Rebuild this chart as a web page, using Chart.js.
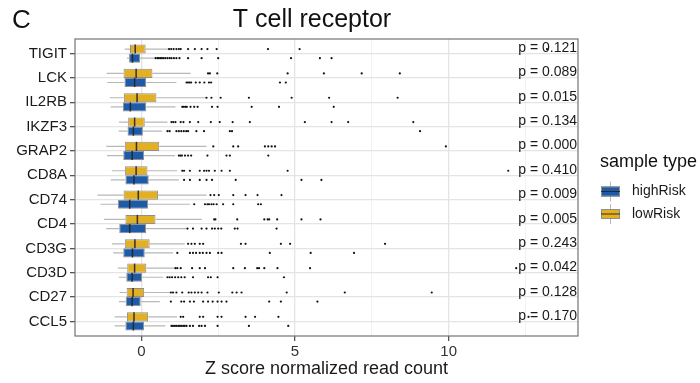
<!DOCTYPE html>
<html>
<head>
<meta charset="utf-8">
<script src="https://cdn.jsdelivr.net/npm/chart.js@4.4.1/dist/chart.umd.min.js"></script>
<style>
  html, body { margin: 0; padding: 0; background: #fff; }
  #wrap { width: 700px; height: 383px; }
</style>
</head>
<body>
<div id="wrap"><canvas id="boxChart" width="700" height="383"></canvas></div>
<script>
const genes = ['TIGIT', 'LCK', 'IL2RB', 'IKZF3', 'GRAP2', 'CD8A', 'CD74', 'CD4', 'CD3G', 'CD3D', 'CD27', 'CCL5'];
const pValues = ['0.121', '0.089', '0.015', '0.134', '0.000', '0.410', '0.009', '0.005', '0.243', '0.042', '0.128', '0.170'];
const xTicks = [0, 5, 10];
const xMinorTicks = [2.5, 7.5, 12.5];

// lowRisk (yellow) box stats
const lowQ1 = [-0.37, -0.58, -0.57, -0.43, -0.54, -0.53, -0.58, -0.52, -0.54, -0.46, -0.48, -0.47];
const lowMed = [-0.20, -0.17, -0.14, -0.22, -0.16, -0.17, -0.10, -0.13, -0.21, -0.22, -0.27, -0.24];
const lowQ3 = [0.14, 0.36, 0.49, 0.11, 0.58, 0.20, 0.54, 0.46, 0.27, 0.16, 0.09, 0.22];
const lowMin = [-0.54, -1.13, -1.03, -0.73, -1.14, -0.96, -1.43, -1.22, -0.96, -0.76, -0.71, -0.87];
const lowMax = [0.87, 1.60, 2.10, 0.85, 2.12, 1.16, 2.12, 1.96, 1.41, 1.09, 0.92, 1.16];
const lowOut = [
  [0.9, 0.97, 1.05, 1.14, 1.22, 1.28, 1.52, 1.74, 1.96, 2.15, 2.45, 4.12, 5.15, 13.2],
  [2.17, 2.23, 2.47, 4.76, 5.94, 7.17, 8.41],
  [2.12, 2.28, 2.58, 3.5, 4.89, 6.11, 8.34],
  [0.98, 1.04, 1.11, 1.28, 1.37, 1.58, 1.85, 2.26, 2.55, 2.97, 3.53, 5.32, 6.19, 6.73, 8.85],
  [2.34, 2.99, 3.15, 4.02, 4.13, 4.24, 4.35, 9.91],
  [1.33, 1.39, 1.58, 1.9, 2.04, 2.12, 2.2, 2.39, 2.61, 2.88, 4.76, 11.94],
  [2.25, 2.37, 2.52, 2.99, 3.39, 3.78, 4.56],
  [2.37, 2.41, 3.12, 4.0, 4.11, 4.16, 4.42, 5.21, 5.83],
  [1.52, 1.63, 1.74, 1.9, 2.01, 3.24, 3.39, 4.54, 4.84, 7.93],
  [1.11, 1.17, 1.28, 1.65, 1.9, 2.07, 2.99, 3.37, 3.77, 3.83, 4.0, 4.43, 5.49, 12.2],
  [0.96, 1.03, 1.14, 1.33, 1.54, 1.63, 1.74, 1.85, 1.96, 2.15, 2.52, 2.96, 3.1, 3.26, 4.73, 6.62, 9.45],
  [1.28, 1.36, 1.9, 2.01, 2.48, 2.61, 3.39, 3.7, 4.46, 12.6],
];

// highRisk (blue) box stats
const highQ1 = [-0.40, -0.55, -0.60, -0.45, -0.59, -0.52, -0.76, -0.72, -0.59, -0.49, -0.51, -0.52];
const highMed = [-0.29, -0.22, -0.36, -0.26, -0.30, -0.24, -0.38, -0.38, -0.29, -0.30, -0.30, -0.26];
const highQ3 = [-0.04, 0.16, 0.16, 0.05, 0.09, 0.24, 0.22, 0.15, 0.11, 0.02, 0.00, 0.09];
const highMin = [-0.47, -1.11, -1.00, -0.74, -1.12, -1.00, -1.33, -1.14, -0.92, -0.74, -0.73, -0.87];
const highMax = [0.41, 1.14, 1.11, 0.67, 1.09, 1.22, 1.58, 1.47, 1.03, 0.71, 0.60, 0.78];
const highOut = [
  [0.46, 0.52, 0.57, 0.62, 0.67, 0.72, 0.78, 0.85, 0.92, 0.98, 1.06, 1.14, 1.24, 1.52, 1.96, 2.5, 4.87, 5.81, 6.19],
  [1.47, 1.52, 1.57, 1.62, 1.77, 1.9, 2.05, 2.2, 2.27, 4.51, 4.70],
  [1.33, 1.38, 1.43, 1.48, 1.6, 1.72, 1.83, 2.3, 2.48, 3.59, 4.48, 6.26],
  [0.85, 0.92, 1.14, 1.22, 1.3, 1.38, 1.46, 1.52, 1.79, 2.04, 2.88, 2.95, 9.07],
  [1.22, 1.27, 1.32, 1.42, 1.52, 1.62, 2.15, 2.77, 2.88, 4.13],
  [1.39, 1.58, 1.9, 2.12, 2.3, 3.07, 5.21, 5.86],
  [1.72, 2.07, 2.15, 2.2, 2.28, 2.35, 2.45, 2.66, 2.99, 3.8, 3.89],
  [1.5, 1.68, 1.96, 2.12, 2.3, 2.39, 2.5, 2.6, 3.04, 3.13, 4.4],
  [1.17, 1.58, 1.68, 1.78, 1.9, 2.0, 2.12, 2.23, 2.5, 2.61, 4.18, 5.51, 6.92],
  [0.85, 0.92, 1.0, 1.1, 1.2, 1.3, 1.41, 1.68, 2.17, 2.26, 2.48, 4.64],
  [0.96, 1.3, 1.39, 1.58, 1.71, 2.01, 2.17, 2.32, 2.48, 2.61, 2.77, 4.16, 4.54, 5.73],
  [0.98, 1.03, 1.09, 1.14, 1.2, 1.25, 1.3, 1.36, 1.41, 1.47, 1.58, 1.68, 1.88, 1.96, 2.07, 2.48, 3.5, 4.78],
];

const FONT = '"Liberation Sans", Arial, Helvetica, sans-serif';
const YELLOW = '#e2b022';
const BLUE = '#1d5aa7';
const BOX_EDGE = '#8f8f8f';
const WHISKER = '#b8b8b8';
const DODGE = 0.1875; // half of the dodge step, in category units

const boxStats = [
  { q1: lowQ1, med: lowMed, q3: lowQ3, min: lowMin, max: lowMax },
  { q1: highQ1, med: highMed, q3: highQ3, min: highMin, max: highMax },
];

function boxData(q1, q3) {
  return genes.map((g, i) => ({ x: [q1[i], q3[i]], y: i + 1 }));
}

function outlierData(outs, offset) {
  return outs.flatMap((vals, i) => vals.map((v) => ({ x: v, y: i + 1 + offset })));
}

const boxExtras = {
  id: 'boxExtras',
  beforeDatasetsDraw(chart) {
    const { ctx } = chart;
    const x = chart.scales.x;
    ctx.save();
    ctx.strokeStyle = WHISKER;
    ctx.lineWidth = 1.2;
    boxStats.forEach((s, di) => {
      chart.getDatasetMeta(di).data.forEach((bar, i) => {
        ctx.beginPath();
        ctx.moveTo(x.getPixelForValue(s.min[i]), bar.y);
        ctx.lineTo(x.getPixelForValue(s.q1[i]), bar.y);
        ctx.moveTo(x.getPixelForValue(s.q3[i]), bar.y);
        ctx.lineTo(x.getPixelForValue(s.max[i]), bar.y);
        ctx.stroke();
      });
    });
    ctx.restore();
  },
  afterDatasetsDraw(chart) {
    const { ctx, chartArea } = chart;
    const x = chart.scales.x;
    const y = chart.scales.y;
    ctx.save();
    // medians
    ctx.strokeStyle = 'rgba(35,35,35,0.9)';
    ctx.lineWidth = 1.5;
    boxStats.forEach((s, di) => {
      chart.getDatasetMeta(di).data.forEach((bar, i) => {
        const px = x.getPixelForValue(s.med[i]);
        ctx.beginPath();
        ctx.moveTo(px, bar.y - bar.height / 2);
        ctx.lineTo(px, bar.y + bar.height / 2);
        ctx.stroke();
      });
    });
    // p values
    ctx.fillStyle = '#1a1a1a';
    ctx.font = `14px ${FONT}`;
    ctx.textAlign = 'right';
    ctx.textBaseline = 'alphabetic';
    pValues.forEach((p, i) => {
      ctx.fillText(`p = ${p}`, chartArea.right - 1, y.getPixelForValue(i + 1) - 1.5);
    });
    ctx.restore();
  },
  afterDraw(chart) {
    const { ctx, chartArea } = chart;
    ctx.save();
    // panel border
    ctx.strokeStyle = '#737373';
    ctx.lineWidth = 1.2;
    ctx.strokeRect(chartArea.left, chartArea.top, chartArea.right - chartArea.left, chartArea.bottom - chartArea.top);

    // titles
    ctx.fillStyle = '#111';
    ctx.textBaseline = 'alphabetic';
    ctx.font = `26px ${FONT}`;
    ctx.textAlign = 'left';
    ctx.fillText('C', 12, 28);
    ctx.font = `25px ${FONT}`;
    ctx.textAlign = 'center';
    ctx.fillText('T cell receptor', 312, 27);

    // legend
    ctx.textAlign = 'left';
    ctx.font = `18px ${FONT}`;
    ctx.fillText('sample type', 600, 167);
    const keys = [
      { label: 'highRisk', color: BLUE, cy: 191.5 },
      { label: 'lowRisk', color: YELLOW, cy: 214 },
    ];
    keys.forEach((k) => {
      const kx = 601, kw = 19, kh = 10;
      ctx.strokeStyle = WHISKER;
      ctx.lineWidth = 1;
      ctx.beginPath();
      ctx.moveTo(kx + kw / 2, k.cy - 10);
      ctx.lineTo(kx + kw / 2, k.cy + 10);
      ctx.stroke();
      ctx.fillStyle = k.color;
      ctx.fillRect(kx, k.cy - kh / 2, kw, kh);
      ctx.strokeStyle = BOX_EDGE;
      ctx.strokeRect(kx + 0.5, k.cy - kh / 2 + 0.5, kw - 1, kh - 1);
      ctx.strokeStyle = 'rgba(35,35,35,0.9)';
      ctx.beginPath();
      ctx.moveTo(kx, k.cy);
      ctx.lineTo(kx + kw, k.cy);
      ctx.stroke();
      ctx.fillStyle = '#1a1a1a';
      ctx.font = `14px ${FONT}`;
      ctx.textBaseline = 'middle';
      ctx.fillText(k.label, 632, k.cy);
      ctx.textBaseline = 'alphabetic';
    });
    ctx.restore();
  },
};

const isMajor = (c) => !!(c && c.tick && xTicks.includes(c.tick.value));

new Chart(document.getElementById('boxChart'), {
  type: 'bar',
  data: {
    datasets: [
      {
        label: 'lowRisk',
        indexAxis: 'y',
        data: boxData(lowQ1, lowQ3),
        backgroundColor: YELLOW,
        borderColor: BOX_EDGE,
        borderWidth: 1,
        borderSkipped: false,
        categoryPercentage: 0.75,
        barPercentage: 1,
      },
      {
        label: 'highRisk',
        indexAxis: 'y',
        data: boxData(highQ1, highQ3),
        backgroundColor: BLUE,
        borderColor: BOX_EDGE,
        borderWidth: 1,
        borderSkipped: false,
        categoryPercentage: 0.75,
        barPercentage: 1,
      },
      {
        type: 'scatter',
        label: 'lowRisk outliers',
        data: outlierData(lowOut, -DODGE),
        pointRadius: 1.1,
        pointBackgroundColor: '#111',
        pointBorderWidth: 0,
      },
      {
        type: 'scatter',
        label: 'highRisk outliers',
        data: outlierData(highOut, DODGE),
        pointRadius: 1.1,
        pointBackgroundColor: '#111',
        pointBorderWidth: 0,
      },
    ],
  },
  options: {
    responsive: false,
    animation: false,
    layout: { padding: { top: 39, right: 122, left: 0, bottom: 0 } },
    plugins: {
      legend: { display: false },
      tooltip: { enabled: false },
    },
    scales: {
      x: {
        type: 'linear',
        position: 'bottom',
        offset: false,
        min: -2.16,
        max: 14.21,
        afterBuildTicks: (axis) => {
          axis.ticks = [...xTicks, ...xMinorTicks].sort((a, b) => a - b).map((v) => ({ value: v }));
        },
        afterFit: (axis) => { axis.height = 47; },
        ticks: {
          autoSkip: false,
          maxRotation: 0,
          padding: 2,
          color: '#333',
          font: { family: FONT, size: 15 },
          callback: (v) => (xTicks.includes(v) ? String(v) : ''),
        },
        grid: {
          offset: false,
          color: (c) => (isMajor(c) ? '#e4e4e4' : '#efefef'),
          lineWidth: (c) => (isMajor(c) ? 1.3 : 0.8),
          tickColor: (c) => (isMajor(c) ? '#555' : 'rgba(0,0,0,0)'),
          tickLength: 5,
        },
        border: { display: false },
        title: {
          display: true,
          text: 'Z score normalized read count',
          color: '#1a1a1a',
          font: { family: FONT, size: 18 },
          padding: { top: 0, bottom: 3 },
        },
      },
      y: {
        type: 'linear',
        position: 'left',
        offset: false,
        reverse: true,
        min: 0.4,
        max: 12.6,
        afterBuildTicks: (axis) => {
          axis.ticks = genes.map((g, i) => ({ value: i + 1 }));
        },
        afterFit: (axis) => { axis.width = 75; },
        ticks: {
          autoSkip: false,
          padding: 3,
          color: '#1a1a1a',
          font: { family: FONT, size: 15 },
          callback: (v) => genes[v - 1],
        },
        grid: {
          offset: false,
          color: '#e4e4e4',
          lineWidth: 1.3,
          tickColor: '#555',
          tickLength: 5,
        },
        border: { display: false },
      },
    },
  },
  plugins: [boxExtras],
});
</script>
</body>
</html>
